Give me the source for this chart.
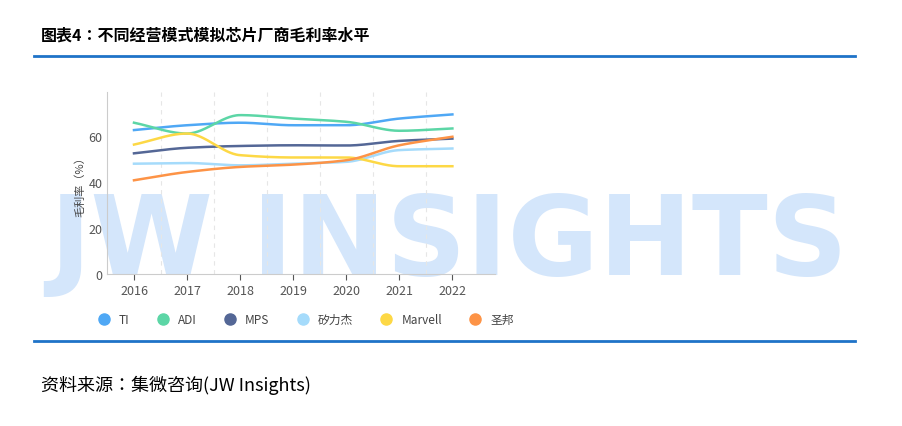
import numpy as np, pandas as pd, seaborn as sns
import matplotlib
matplotlib.use("Agg")
import matplotlib.pyplot as plt
from matplotlib.lines import Line2D
from matplotlib import font_manager

years = [2016, 2017, 2018, 2019, 2020, 2021, 2022]
series_names = ["TI", "ADI", "MPS", "矽力杰", "Marvell", "圣邦"]
ti = [62.5, 64.6, 65.7, 64.6, 64.6, 67.5, 69.3]
adi = [65.7, 61.0, 69.0, 67.5, 66.1, 62.2, 63.2]
mps = [52.4, 54.8, 55.6, 55.9, 55.8, 57.8, 58.8]
silergy = [47.9, 48.2, 47.2, 47.9, 48.7, 53.8, 54.5]
marvell = [56.2, 61.0, 51.6, 50.6, 50.6, 46.8, 46.8]
sgmicro = [40.7, 44.3, 46.5, 47.5, 49.4, 55.9, 59.6]
colors = ["#4fa8f5", "#5cd6a6", "#546796", "#a5dbfb", "#fdd845", "#fd9346"]

avail = {f.name for f in font_manager.fontManager.ttflist}
cjk = [n for n in ["Noto Sans CJK SC", "Noto Sans CJK JP", "Noto Sans CJK TC", "Noto Sans CJK KR"] if n in avail]
plt.rcParams["font.family"] = "sans-serif"
plt.rcParams["font.sans-serif"] = cjk + ["DejaVu Sans"]

def pchip(x, y, xs):
    x = np.asarray(x, float); y = np.asarray(y, float)
    h = np.diff(x); d = np.diff(y) / h
    m = np.zeros_like(y)
    for k in range(1, len(y) - 1):
        if d[k-1] * d[k] > 0:
            m[k] = 2 / (1/d[k-1] + 1/d[k])
    m[0] = d[0]; m[-1] = d[-1]
    out = []
    for xv in xs:
        k = min(np.searchsorted(x, xv, side="right") - 1, len(x) - 2)
        t = (xv - x[k]) / h[k]
        h00 = 2*t**3 - 3*t**2 + 1; h10 = t**3 - 2*t**2 + t
        h01 = -2*t**3 + 3*t**2; h11 = t**3 - t**2
        out.append(h00*y[k] + h10*h[k]*m[k] + h01*y[k+1] + h11*h[k]*m[k+1])
    return np.array(out)

fig = plt.figure(figsize=(9.03, 4.27), dpi=100)
fig.patch.set_facecolor("white")

# watermark
fig.text(0.055, 0.355, "JW INSIGHTS", fontsize=80, fontweight="bold",
         color="#d4e6fb", family="DejaVu Sans", zorder=-1)

ax = fig.add_axes([0.119, 0.356, 0.429, 0.426])
ax.patch.set_alpha(0)
xs = np.linspace(2016, 2022, 300)
rows = []
for name, vals in zip(series_names, [ti, adi, mps, silergy, marvell, sgmicro]):
    for xv, yv in zip(xs, pchip(years, vals, xs)):
        rows.append((name, xv, yv))
df = pd.DataFrame(rows, columns=["公司", "年份", "毛利率"])
sns.lineplot(data=df, x="年份", y="毛利率", hue="公司", palette=colors,
             hue_order=series_names, ax=ax, legend=False, linewidth=1.8, zorder=3)

ax.set_xlim(2015.5, 2022.5 + 0.3)
ax.set_ylim(0, 79)
ax.set_xticks(years)
ax.set_xticklabels([str(y) for y in years])
ax.set_yticks([0, 20, 40, 60])
for xv in np.arange(2016.5, 2022, 1):
    ax.axvline(xv, color="#e6e6e6", ls=(0, (4, 4)), lw=0.8, zorder=1)
for s in ["top", "right"]:
    ax.spines[s].set_visible(False)
for s in ["left", "bottom"]:
    ax.spines[s].set_color("#cccccc")
ax.tick_params(colors="#555555", labelsize=9, length=4)
ax.tick_params(axis="y", length=0)
ax.set_xlabel("")
ax.set_ylabel("毛利率（%）", fontsize=8, color="#444444", labelpad=2)

handles = [Line2D([], [], marker="o", ls="", color=c, markersize=8) for c in colors]
fig.legend(handles, series_names, loc="center left", bbox_to_anchor=(0.09, 0.25),
           ncol=6, frameon=False, fontsize=8.5, handletextpad=0.3, columnspacing=1.8,
           labelcolor="#444444")

fig.text(0.045, 0.905, "图表4：不同经营模式模拟芯片厂商毛利率水平", fontsize=11.5,
         fontweight="bold", color="#000000")
fig.add_artist(Line2D([0.038, 0.947], [0.866, 0.866], color="#1f73c8", lw=2))
fig.add_artist(Line2D([0.038, 0.947], [0.199, 0.199], color="#1f73c8", lw=2))
fig.text(0.045, 0.085, "资料来源：集微咨询(JW Insights)", fontsize=13,
         style="italic", color="#000000")

fig.savefig("out.png", dpi=100)
